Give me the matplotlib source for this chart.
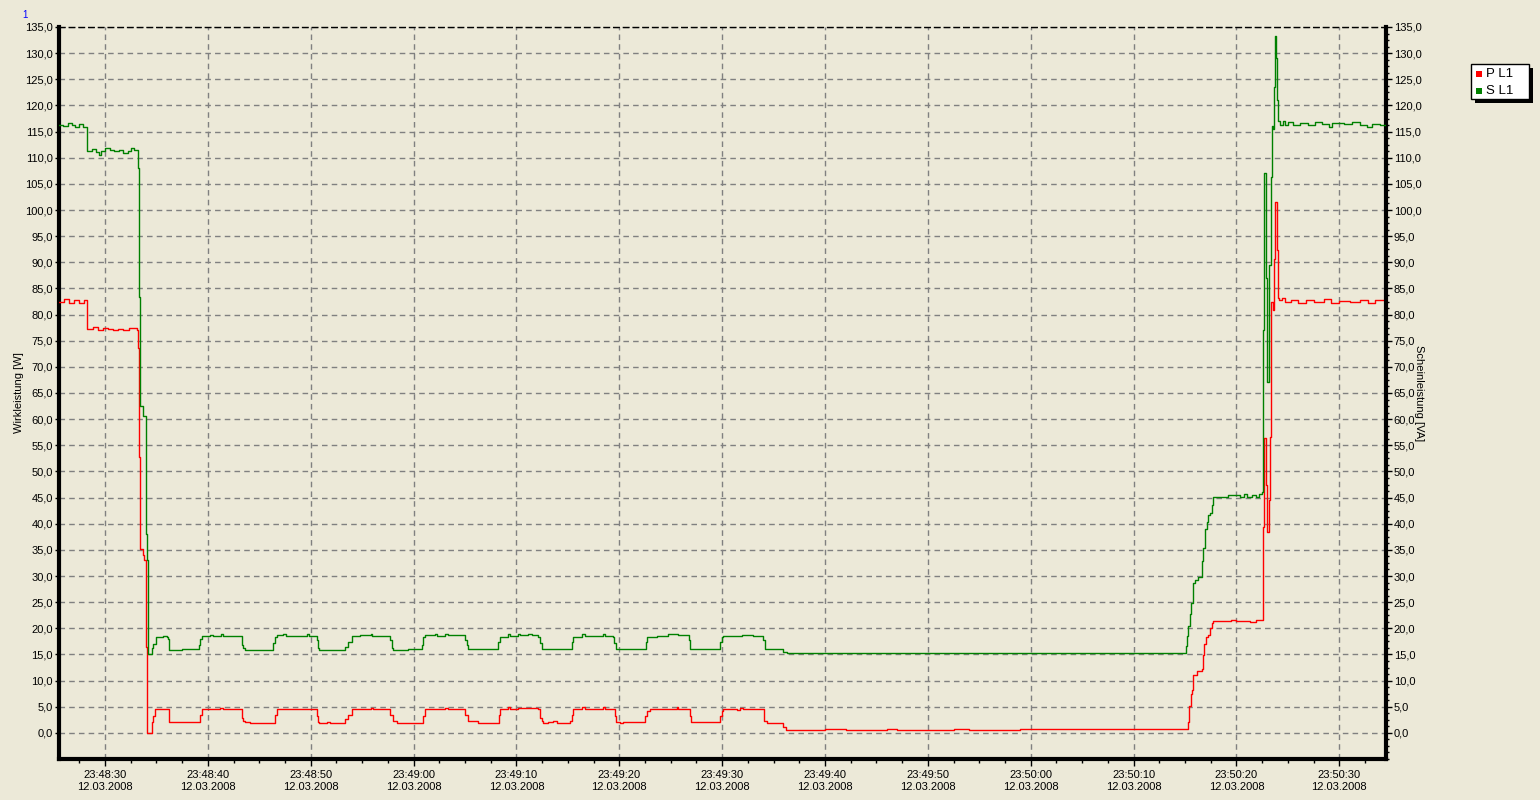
import matplotlib
matplotlib.use("Agg")
import matplotlib.pyplot as plt
from matplotlib.ticker import MultipleLocator, FixedLocator, FuncFormatter
from matplotlib.patches import Rectangle
import numpy as np

# ---------------- data (time in seconds after 23:48:00 on 12.03.2008) ----------------
date_label = "12.03.2008"
base_hour, base_min = 23, 48
series_names = ["P L1", "S L1"]
y_label_left = "Wirkleistung [W]"
y_label_right = "Scheinleistung [VA]"

p_time = [25.5, 26.0, 26.5, 27.0, 27.5, 28.0, 28.27, 28.8, 29.3, 29.8, 30.3, 30.8, 31.3, 31.8,
          32.3, 32.8, 33.1, 33.24, 33.34, 33.43, 33.73, 33.82, 33.99, 34.12, 34.54, 34.70, 34.86,
          36.25, 39.24, 39.40, 40.7, 41.2, 41.5, 43.1, 43.29, 43.45, 43.61, 44.1, 46.53, 46.69,
          49.77, 50.25, 50.58, 50.74, 50.84, 51.55, 51.87, 53.33, 53.66, 53.98, 54.79, 55.83, 56.1,
          57.71, 58.03, 58.35, 60.95, 61.11, 63.05, 63.38, 65.0, 65.32, 66.3, 68.31, 68.40, 69.21,
          69.37, 70.19, 72.13, 72.29, 72.45, 72.62, 73.10, 73.59, 73.91, 75.21, 75.37, 75.53, 76.34,
          76.67, 77.80, 78.45, 78.61, 79.42, 79.58, 79.65, 80.07, 80.39, 82.50, 82.66, 82.99, 85.58,
          85.74, 86.87, 86.94, 89.79, 89.95, 90.12, 91.09, 91.41, 91.74, 92.06, 94.10, 94.33, 95.95,
          96.21, 100.0, 102.0, 106.0, 107.0, 112.5, 114.0, 119.0, 120.0, 126.0, 127.0, 131.5, 133.0,
          135.26, 135.42, 135.55, 135.65, 135.81, 136.13, 136.62, 136.71, 136.84, 137.04, 137.20,
          137.43, 137.65, 137.75, 139.5, 140.0, 141.3, 141.9, 142.29, 142.55, 142.72, 142.91, 143.01,
          143.14, 143.27, 143.33, 143.40, 143.59, 143.69, 143.79, 143.98, 144.08, 144.17, 144.40,
          144.72, 145.3, 146.0, 146.8, 147.5, 148.5, 149.2, 150.0, 151.0, 152.0, 152.8, 153.5, 154.6]
p_value = [82.5, 82.9, 82.3, 82.7, 82.2, 82.8, 77.2, 77.6, 77.0, 77.5, 77.3, 77.0, 77.3, 77.0,
           77.5, 77.4, 77.0, 73.6, 52.7, 35.1, 34.1, 33.1, 16.5, 0.0, 2.1, 3.3, 4.5,
           2.1, 3.5, 4.6, 4.5, 4.8, 4.5, 4.6, 2.9, 2.2, 2.1, 1.9, 3.5, 4.6,
           4.6, 4.5, 3.2, 2.1, 1.9, 2.1, 1.9, 2.6, 3.5, 4.5, 4.6, 4.8, 4.6,
           3.5, 2.2, 1.9, 3.2, 4.6, 4.8, 4.6, 3.5, 2.2, 1.9, 3.5, 4.6, 5.0,
           4.6, 4.8, 4.5, 2.9, 2.2, 1.9, 2.1, 2.2, 1.9, 2.2, 3.5, 4.6, 5.0,
           4.6, 4.5, 5.0, 4.6, 4.5, 3.2, 2.1, 1.9, 2.1, 3.2, 4.2, 4.6, 5.0,
           4.6, 3.2, 2.1, 3.2, 4.2, 4.6, 4.5, 4.4, 4.8, 4.6, 2.2, 1.9, 1.15,
           0.64, 0.75, 0.64, 0.8, 0.64, 0.75, 0.64, 0.8, 0.7, 0.8, 0.65, 0.8, 0.75,
           2.0, 5.1, 7.4, 8.2, 11.0, 11.8, 12.2, 14.9, 17.0, 18.4, 18.8,
           20.1, 21.0, 21.4, 21.6, 21.4, 21.2, 21.5, 21.6, 39.4, 56.3, 47.4, 38.4,
           44.5, 56.6, 72.8, 82.4, 80.8, 90.6, 101.5, 92.4, 83.1, 82.8, 83.1,
           82.5, 82.8, 82.3, 82.7, 82.4, 82.9, 82.2, 82.6, 82.4, 82.8, 82.3, 82.7, 82.6]

s_time = [25.5, 25.9, 26.4, 26.8, 27.1, 27.5, 27.9, 28.27, 28.7, 29.1, 29.4, 29.6, 30.0, 30.5,
          30.9, 31.4, 31.8, 32.2, 32.5, 32.8, 33.24, 33.30, 33.43, 33.73, 33.99, 34.12, 34.18,
          34.54, 34.70, 34.93, 35.6, 36.0, 36.16, 36.25, 37.45, 39.17, 39.24, 39.40, 40.21, 40.53,
          41.28, 41.44, 43.29, 43.45, 43.61, 46.37, 46.53, 46.69, 47.34, 47.6, 49.61, 49.8, 50.58,
          50.74, 50.84, 53.33, 53.66, 53.98, 54.79, 55.83, 56.0, 57.71, 57.87, 58.03, 59.5, 60.79,
          60.95, 61.11, 62.08, 62.3, 63.05, 63.3, 65.00, 65.16, 65.32, 68.24, 68.40, 69.15, 69.37,
          70.12, 70.35, 71.16, 71.48, 72.13, 72.29, 72.45, 75.37, 75.53, 76.34, 76.67, 78.45, 78.61,
          79.42, 79.49, 79.65, 82.56, 82.73, 83.63, 84.77, 85.58, 85.74, 86.81, 86.87, 87.69, 87.9,
          88.33, 88.5, 88.66, 88.9, 89.79, 89.95, 90.12, 91.90, 93.03, 94.00, 94.17, 95.95, 96.27,
          100.0, 101.5, 105.5, 106.2, 112.0, 113.0, 118.0, 118.6, 124.0, 125.0, 131.0, 132.0,
          135.0, 135.10, 135.20, 135.32, 135.45, 135.60, 135.75, 135.95, 136.30, 136.62, 136.78,
          136.94, 137.10, 137.27, 137.43, 137.59, 137.75, 139.21, 140.34, 140.7, 141.0, 141.5,
          141.9, 142.2, 142.49, 142.62, 142.68, 142.88, 143.01, 143.14, 143.20, 143.33, 143.43,
          143.53, 143.69, 143.79, 143.85, 143.91, 144.01, 144.2, 144.5, 144.7, 145.0, 145.5, 146.2,
          147.0, 147.6, 148.3, 149.0, 149.3, 150.5, 151.2, 152.0, 152.7, 153.2, 154.0, 154.6]
s_value = [116.3, 116.0, 116.7, 116.2, 115.9, 116.5, 115.8, 111.3, 111.6, 111.0, 110.6, 111.2, 111.9, 111.5,
           111.2, 111.4, 110.9, 111.3, 111.9, 111.5, 108.0, 83.3, 62.6, 60.6, 38.0, 33.1, 15.1,
           16.2, 17.0, 18.3, 18.5, 18.4, 18.0, 15.8, 15.96, 16.8, 17.9, 18.6, 18.7, 18.6,
           18.85, 18.6, 16.8, 16.2, 15.83, 17.1, 18.4, 18.7, 18.85, 18.6, 18.85, 18.6, 17.8,
           16.2, 15.83, 16.5, 17.4, 18.6, 18.7, 19.0, 18.6, 17.8, 16.2, 15.83, 15.96, 16.8,
           18.4, 18.7, 18.85, 18.6, 19.0, 18.7, 17.8, 16.8, 15.96, 17.4, 18.4, 18.85, 18.6,
           18.9, 18.7, 18.85, 18.7, 18.4, 17.1, 15.96, 17.4, 18.4, 18.85, 18.6, 19.0, 18.6,
           18.4, 17.1, 15.96, 17.4, 18.4, 18.6, 18.85, 19.0, 18.7, 17.8, 15.96, 16.1, 15.96,
           16.1, 15.96, 16.1, 15.96, 17.4, 18.4, 18.6, 18.7, 18.6, 17.8, 15.96, 15.5, 15.2,
           15.3, 15.2, 15.35, 15.2, 15.3, 15.2, 15.35, 15.2, 15.3, 15.2, 15.3, 15.25,
           15.3, 16.6, 18.5, 20.5, 22.7, 24.9, 28.6, 29.2, 29.8, 32.8, 35.4,
           38.9, 40.3, 41.6, 42.0, 43.5, 45.1, 45.5, 45.2, 45.6, 45.2, 45.5,
           45.2, 45.6, 46.1, 77.0, 107.0, 87.0, 67.1, 74.7, 89.5, 106.3, 116.0,
           115.5, 123.6, 133.2, 129.0, 121.0, 117.0, 116.2, 117.0, 116.2, 116.9, 116.3, 116.7,
           116.2, 116.8, 116.4, 115.8, 116.6, 116.5, 116.9, 116.3, 115.9, 116.5, 116.2, 116.2]

x_range = (25.53, 154.54)
y_range = (-5.0, 135.0)
y_ticks = list(range(0, 136, 5))

# ---------------- style ----------------
BG = "#ECE9D8"
RED = "#FF0000"
GREEN = "#008000"
GRID = "#808080"
FONT = ["Liberation Sans", "DejaVu Sans"]
plt.rcParams["font.family"] = FONT

W, H = 1540, 800
fig = plt.figure(figsize=(W / 100, H / 100), dpi=100, facecolor=BG)
L, R, T, B = 59, 1386, 27, 759
ax = fig.add_axes([L / W, (H - B) / H, (R - L) / W, (B - T) / H])
ax.set_facecolor(BG)
ax2 = ax.twinx()

ax.plot(p_time, p_value, color=RED, lw=1.0, drawstyle="steps-post", zorder=3)
ax2.plot(s_time, s_value, color=GREEN, lw=1.0, drawstyle="steps-post", zorder=3)

for a in (ax, ax2):
    a.set_xlim(*x_range)
    a.set_ylim(*y_range)

# grid
dash = (0, (4, 3))
ax.grid(True, which="major", color=GRID, linestyle=dash, linewidth=1)
ax.set_axisbelow(True)

# spines
for a in (ax, ax2):
    for s in a.spines.values():
        s.set_visible(False)
ax.spines["left"].set_visible(True)
ax.spines["left"].set_linewidth(3)
ax.spines["bottom"].set_visible(True)
ax.spines["bottom"].set_linewidth(3)
ax.spines["top"].set_visible(True)
ax.spines["top"].set_linewidth(1)
ax.spines["top"].set_linestyle(dash)
ax2.spines["right"].set_visible(True)
ax2.spines["right"].set_linewidth(3)

# x ticks
def time_fmt(v, pos):
    total = int(round(v))
    mm = base_min + total // 60
    ss = total % 60
    return f"{base_hour:02d}:{mm:02d}:{ss:02d}\n{date_label}"

ax.xaxis.set_major_locator(MultipleLocator(10))
ax.xaxis.set_minor_locator(MultipleLocator(2.5))
ax.xaxis.set_major_formatter(FuncFormatter(time_fmt))
ax.tick_params(axis="x", which="major", direction="out", length=5, width=1,
               labelsize=8, pad=3, colors="black")
ax.tick_params(axis="x", which="minor", direction="out", length=3, width=1)

yfmt = FuncFormatter(lambda v, p: f"{v:.1f}".replace(".", ","))
ax.yaxis.set_major_locator(FixedLocator(y_ticks))
ax.yaxis.set_major_formatter(yfmt)
ax.tick_params(axis="y", which="major", direction="out", length=3, width=1,
               labelsize=8, pad=1.5)
ax2.yaxis.set_major_locator(FixedLocator(y_ticks))
ax2.yaxis.set_minor_locator(MultipleLocator(1.25))
ax2.yaxis.set_major_formatter(yfmt)
ax2.tick_params(axis="y", which="major", direction="out", length=4, width=1,
                labelsize=8, pad=1.5)
ax2.tick_params(axis="y", which="minor", direction="out", length=2.5, width=1)

ax.set_ylabel(y_label_left, fontsize=8)
ax.yaxis.set_label_coords((24 - L) / (R - L), 0.5)
ax2.set_ylabel(y_label_right, fontsize=8, rotation=-90, va="center")
ax2.yaxis.set_label_coords((1418.5 - L) / (R - L), 0.5)

# top-left marker
fig.text(25 / W, 1 - 15 / H, "1", color="#0000FF", fontsize=7, ha="center", va="center")

# legend box
lx0, lx1, ly0, ly1 = 1471, 1529, 64, 99
def fr(x, y):
    return x / W, 1 - y / H
sx, sy = fr(lx0 + 4, ly1 + 4)
fig.patches.append(Rectangle((sx, sy), (lx1 - lx0) / W, (ly1 - ly0) / H,
                             transform=fig.transFigure, facecolor="black", edgecolor="none"))
bx, by = fr(lx0, ly1)
fig.patches.append(Rectangle((bx, by), (lx1 - lx0) / W, (ly1 - ly0) / H,
                             transform=fig.transFigure, facecolor="white", edgecolor="black", lw=1))
for i, (name, col) in enumerate(zip(series_names, [RED, GREEN])):
    cy = 74 + i * 17
    mx, my = fr(1476, cy + 3)
    fig.patches.append(Rectangle((mx, my), 6 / W, 6 / H, transform=fig.transFigure,
                                 facecolor=col, edgecolor="none"))
    tx, ty = fr(1486, cy)
    fig.text(tx, ty, name, fontsize=9.5, ha="left", va="center")

fig.savefig("out.png", dpi=100, facecolor=BG)
